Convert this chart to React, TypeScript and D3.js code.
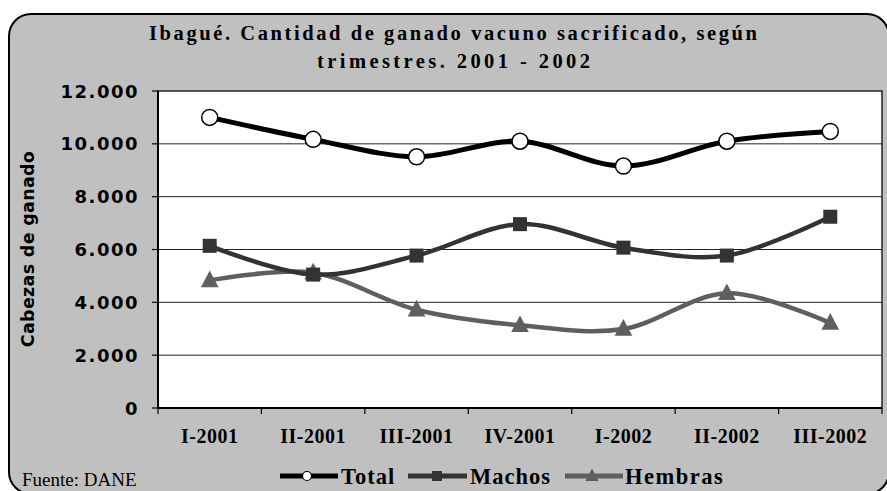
import React from "react";
import * as d3 from "d3";

const categories = ["I-2001", "II-2001", "III-2001", "IV-2001", "I-2002", "II-2002", "III-2002"];
const totalValues = [11000, 10170, 9510, 10100, 9160, 10100, 10470];
const machosValues = [6140, 5050, 5770, 6960, 6070, 5770, 7240];
const hembrasValues = [4830, 5120, 3720, 3130, 2990, 4340, 3220];
const yTicks = [0, 2000, 4000, 6000, 8000, 10000, 12000];
const titleLines = ["Ibagué. Cantidad de ganado vacuno sacrificado, según", "trimestres. 2001 - 2002"];

const W = 887, H = 491;
const plot = { left: 158, right: 882, top: 91, bottom: 408 };

const fmt = (v: number) => (v === 0 ? "0" : d3.format(",")(v).replace(/,/g, "."));

export default function App() {
  const x = d3.scaleBand<string>().domain(categories).range([plot.left, plot.right]);
  const y = d3.scaleLinear().domain([0, 12000]).range([plot.bottom, plot.top]);
  const cx = (c: string) => (x(c) as number) + x.bandwidth() / 2;
  const line = d3
    .line<number>()
    .x((_, i) => cx(categories[i]))
    .y((d) => y(d))
    .curve(d3.curveCardinal.tension(0));

  const serif = "'Liberation Serif', 'Times New Roman', serif";
  const sans = "'DejaVu Sans', Verdana, sans-serif";

  const tri = (px: number, py: number, s: number) =>
    `M${px},${py - s * 0.62} L${px + s * 0.55},${py + s * 0.42} L${px - s * 0.55},${py + s * 0.42} Z`;

  const boundaries = [...categories.map((c) => x(c) as number), plot.right];

  return (
    <svg width={W} height={H} style={{ position: "absolute", left: 0, top: 0 }}>
      <rect x={9} y={14} width={880} height={480} rx={22} ry={22} fill="#C0C0C0" stroke="#000" strokeWidth={2} />
      <text x={453} y={40} textAnchor="middle" fontFamily={serif} fontWeight="bold" fontSize={20.5}
        textLength={608} lengthAdjust="spacing" fill="#000">{titleLines[0]}</text>
      <text x={453.5} y={68} textAnchor="middle" fontFamily={serif} fontWeight="bold" fontSize={20.5}
        textLength={273} lengthAdjust="spacing" fill="#000">{titleLines[1]}</text>

      <rect x={plot.left} y={plot.top} width={plot.right - plot.left} height={plot.bottom - plot.top}
        fill="#fff" stroke="#222" strokeWidth={1.5} />
      {yTicks.filter((t) => t > 0 && t < 12000).map((t) => (
        <line key={"g" + t} x1={plot.left} x2={plot.right} y1={y(t)} y2={y(t)} stroke="#222" strokeWidth={1} />
      ))}
      {yTicks.map((t) => (
        <g key={"t" + t}>
          <line x1={plot.left - 6} x2={plot.left} y1={y(t)} y2={y(t)} stroke="#000" strokeWidth={1.2} />
          <text x={139} y={y(t) + 6.5} textAnchor="end" fontFamily={sans} fontWeight="bold" fontSize={18}
            letterSpacing={1.5} fill="#000">{fmt(t)}</text>
        </g>
      ))}
      <line x1={plot.left} x2={plot.left} y1={plot.top} y2={plot.bottom} stroke="#000" strokeWidth={2} />
      <line x1={plot.left} x2={plot.right} y1={plot.bottom} y2={plot.bottom} stroke="#000" strokeWidth={2} />
      {boundaries.map((b, i) => (
        <line key={"xt" + i} x1={b} x2={b} y1={plot.bottom} y2={plot.bottom + 6} stroke="#000" strokeWidth={1.2} />
      ))}
      {categories.map((c) => (
        <text key={c} x={cx(c)} y={443} textAnchor="middle" fontFamily={serif} fontWeight="bold" fontSize={20}
          letterSpacing={0.5} fill="#000">{c}</text>
      ))}
      <text transform="translate(34,249) rotate(-90)" textAnchor="middle" fontFamily={sans} fontWeight="bold"
        fontSize={17.5} letterSpacing={0.3} fill="#000">Cabezas de ganado</text>

      <path d={line(hembrasValues) || ""} fill="none" stroke="#5F5F5F" strokeWidth={4.5} />
      <path d={line(machosValues) || ""} fill="none" stroke="#333333" strokeWidth={4.5} />
      <path d={line(totalValues) || ""} fill="none" stroke="#000" strokeWidth={5} />

      {hembrasValues.map((v, i) => (
        <path key={"h" + i} d={tri(cx(categories[i]), y(v), 16)} fill="#5F5F5F" />
      ))}
      {machosValues.map((v, i) => (
        <rect key={"m" + i} x={cx(categories[i]) - 7} y={y(v) - 7} width={14} height={14} fill="#333333" />
      ))}
      {totalValues.map((v, i) => (
        <circle key={"c" + i} cx={cx(categories[i])} cy={y(v)} r={8} fill="#fff" stroke="#000" strokeWidth={1.5} />
      ))}

      {/* legend */}
      <line x1={280} x2={338} y1={476} y2={476} stroke="#000" strokeWidth={5} />
      <circle cx={307} cy={476} r={4.5} fill="#fff" stroke="#000" strokeWidth={1.2} />
      <text x={341} y={484} fontFamily={serif} fontWeight="bold" fontSize={22.5} letterSpacing={1}
        fill="#000">Total</text>
      <line x1={408} x2={467} y1={476} y2={476} stroke="#333333" strokeWidth={5} />
      <rect x={432} y={471} width={10} height={10} fill="#333333" />
      <text x={470} y={484} fontFamily={serif} fontWeight="bold" fontSize={22.5} letterSpacing={1}
        fill="#000">Machos</text>
      <line x1={565} x2={623} y1={476} y2={476} stroke="#5F5F5F" strokeWidth={5} />
      <path d={tri(592, 476, 12)} fill="#5F5F5F" />
      <text x={625} y={484} fontFamily={serif} fontWeight="bold" fontSize={22.5} letterSpacing={1.5}
        fill="#000">Hembras</text>

      <text x={22} y={486} fontFamily={serif} fontSize={19} fill="#000">Fuente: DANE</text>
    </svg>
  );
}
